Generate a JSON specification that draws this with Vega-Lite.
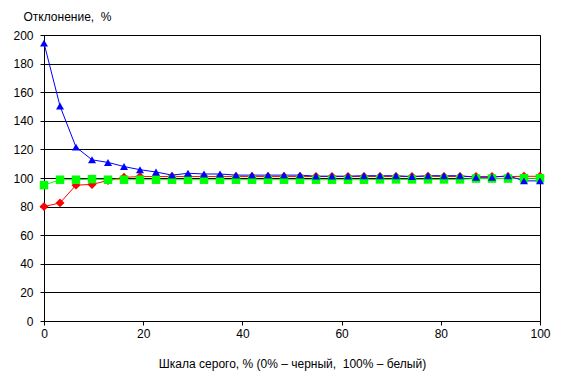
{
  "$schema": "https://vega.github.io/schema/vega-lite/v6.json",
  "width": 496,
  "height": 286,
  "autosize": {"type": "none"},
  "padding": {"left": 44, "top": 35, "right": 28, "bottom": 58},
  "background": "white",
  "config": {
    "font": "Liberation Sans",
    "view": {"stroke": "black", "strokeWidth": 1}
  },
  "datasets": {
    "d": [
      {"s": "red", "x": 0, "y": 80},
      {"s": "red", "x": 3.23, "y": 82.6},
      {"s": "red", "x": 6.45, "y": 95},
      {"s": "red", "x": 9.68, "y": 95.5},
      {"s": "red", "x": 12.9, "y": 98.3},
      {"s": "red", "x": 16.13, "y": 100.5},
      {"s": "red", "x": 19.35, "y": 101},
      {"s": "red", "x": 22.58, "y": 101},
      {"s": "red", "x": 25.81, "y": 101},
      {"s": "red", "x": 29.03, "y": 101},
      {"s": "red", "x": 32.26, "y": 101},
      {"s": "red", "x": 35.48, "y": 101},
      {"s": "red", "x": 38.71, "y": 101},
      {"s": "red", "x": 41.94, "y": 101},
      {"s": "red", "x": 45.16, "y": 101},
      {"s": "red", "x": 48.39, "y": 101},
      {"s": "red", "x": 51.61, "y": 101},
      {"s": "red", "x": 54.84, "y": 101},
      {"s": "red", "x": 58.06, "y": 101},
      {"s": "red", "x": 61.29, "y": 101},
      {"s": "red", "x": 64.52, "y": 101},
      {"s": "red", "x": 67.74, "y": 101},
      {"s": "red", "x": 70.97, "y": 101},
      {"s": "red", "x": 74.19, "y": 101},
      {"s": "red", "x": 77.42, "y": 101.3},
      {"s": "red", "x": 80.65, "y": 101},
      {"s": "red", "x": 83.87, "y": 101},
      {"s": "red", "x": 87.1, "y": 101},
      {"s": "red", "x": 90.32, "y": 101},
      {"s": "red", "x": 93.55, "y": 101},
      {"s": "red", "x": 96.77, "y": 101.2},
      {"s": "red", "x": 100, "y": 101.2},
      {"s": "green", "x": 0, "y": 95},
      {"s": "green", "x": 3.23, "y": 98.8},
      {"s": "green", "x": 6.45, "y": 98.8},
      {"s": "green", "x": 9.68, "y": 99.2},
      {"s": "green", "x": 12.9, "y": 98.8},
      {"s": "green", "x": 16.13, "y": 98.8},
      {"s": "green", "x": 19.35, "y": 98.8},
      {"s": "green", "x": 22.58, "y": 98.8},
      {"s": "green", "x": 25.81, "y": 98.8},
      {"s": "green", "x": 29.03, "y": 98.8},
      {"s": "green", "x": 32.26, "y": 98.8},
      {"s": "green", "x": 35.48, "y": 98.8},
      {"s": "green", "x": 38.71, "y": 98.8},
      {"s": "green", "x": 41.94, "y": 98.8},
      {"s": "green", "x": 45.16, "y": 98.8},
      {"s": "green", "x": 48.39, "y": 98.8},
      {"s": "green", "x": 51.61, "y": 98.8},
      {"s": "green", "x": 54.84, "y": 98.8},
      {"s": "green", "x": 58.06, "y": 98.8},
      {"s": "green", "x": 61.29, "y": 98.8},
      {"s": "green", "x": 64.52, "y": 98.8},
      {"s": "green", "x": 67.74, "y": 99},
      {"s": "green", "x": 70.97, "y": 99},
      {"s": "green", "x": 74.19, "y": 99},
      {"s": "green", "x": 77.42, "y": 99},
      {"s": "green", "x": 80.65, "y": 99},
      {"s": "green", "x": 83.87, "y": 99},
      {"s": "green", "x": 87.1, "y": 99.6},
      {"s": "green", "x": 90.32, "y": 99.6},
      {"s": "green", "x": 93.55, "y": 99.6},
      {"s": "green", "x": 96.77, "y": 99.8},
      {"s": "green", "x": 100, "y": 99.8},
      {"s": "blue", "x": 0, "y": 194.3},
      {"s": "blue", "x": 3.23, "y": 150.3},
      {"s": "blue", "x": 6.45, "y": 121.6},
      {"s": "blue", "x": 9.68, "y": 112.7},
      {"s": "blue", "x": 12.9, "y": 110.9},
      {"s": "blue", "x": 16.13, "y": 108},
      {"s": "blue", "x": 19.35, "y": 105.8},
      {"s": "blue", "x": 22.58, "y": 104.2},
      {"s": "blue", "x": 25.81, "y": 102},
      {"s": "blue", "x": 29.03, "y": 103.3},
      {"s": "blue", "x": 32.26, "y": 102.8},
      {"s": "blue", "x": 35.48, "y": 102.8},
      {"s": "blue", "x": 38.71, "y": 102},
      {"s": "blue", "x": 41.94, "y": 102},
      {"s": "blue", "x": 45.16, "y": 102},
      {"s": "blue", "x": 48.39, "y": 102},
      {"s": "blue", "x": 51.61, "y": 102},
      {"s": "blue", "x": 54.84, "y": 101.3},
      {"s": "blue", "x": 58.06, "y": 101.3},
      {"s": "blue", "x": 61.29, "y": 101.3},
      {"s": "blue", "x": 64.52, "y": 101.6},
      {"s": "blue", "x": 67.74, "y": 101.6},
      {"s": "blue", "x": 70.97, "y": 101.6},
      {"s": "blue", "x": 74.19, "y": 101},
      {"s": "blue", "x": 77.42, "y": 101.6},
      {"s": "blue", "x": 80.65, "y": 101.6},
      {"s": "blue", "x": 83.87, "y": 101.6},
      {"s": "blue", "x": 87.1, "y": 100.5},
      {"s": "blue", "x": 90.32, "y": 100.5},
      {"s": "blue", "x": 93.55, "y": 101.6},
      {"s": "blue", "x": 96.77, "y": 98},
      {"s": "blue", "x": 100, "y": 98}
    ]
  },
  "data": {"name": "d"},
  "encoding": {
    "x": {
      "field": "x",
      "type": "quantitative",
      "scale": {"domain": [0, 100], "nice": false, "zero": false},
      "axis": {
        "values": [0, 20, 40, 60, 80, 100],
        "title": "Шкала серого, % (0% – черный,\u00a0 100% – белый)",
        "grid": false,
        "domainColor": "black",
        "tickColor": "black",
        "tickSize": 4,
        "labelFontSize": 12,
        "labelColor": "black",
        "labelPadding": 3,
        "labelFlush": false,
        "titleFontSize": 12,
        "titleFontWeight": "normal",
        "titleColor": "black",
        "titleY": 46,
        "titleBaseline": "alphabetic"
      }
    },
    "y": {
      "field": "y",
      "type": "quantitative",
      "scale": {"domain": [0, 200], "nice": false},
      "axis": {
        "values": [0, 20, 40, 60, 80, 100, 120, 140, 160, 180, 200],
        "title": "Отклонение,\u00a0 %",
        "grid": true,
        "gridColor": "black",
        "gridOpacity": 1,
        "domainColor": "black",
        "tickColor": "black",
        "tickSize": 4,
        "labelFontSize": 12,
        "labelColor": "black",
        "labelPadding": 7,
        "titleFontSize": 12,
        "titleFontWeight": "normal",
        "titleColor": "black",
        "titleAngle": 0,
        "titleAlign": "left",
        "titleBaseline": "alphabetic",
        "titleX": -21,
        "titleY": -15
      }
    },
    "color": {
      "field": "s",
      "type": "nominal",
      "scale": {"domain": ["red", "green", "blue"], "range": ["#FF0000", "#00FF00", "#0000FF"]},
      "legend": null
    }
  },
  "layer": [
    {"mark": {"type": "line", "strokeWidth": 1}},
    {
      "mark": {"type": "point", "filled": true, "opacity": 1},
      "encoding": {
        "shape": {
          "field": "s",
          "type": "nominal",
          "scale": {"domain": ["red", "green", "blue"], "range": ["diamond", "square", "triangle-up"]},
          "legend": null
        },
        "size": {
          "field": "s",
          "type": "nominal",
          "scale": {"domain": ["red", "green", "blue"], "range": [80, 64, 100]},
          "legend": null
        }
      }
    }
  ]
}
